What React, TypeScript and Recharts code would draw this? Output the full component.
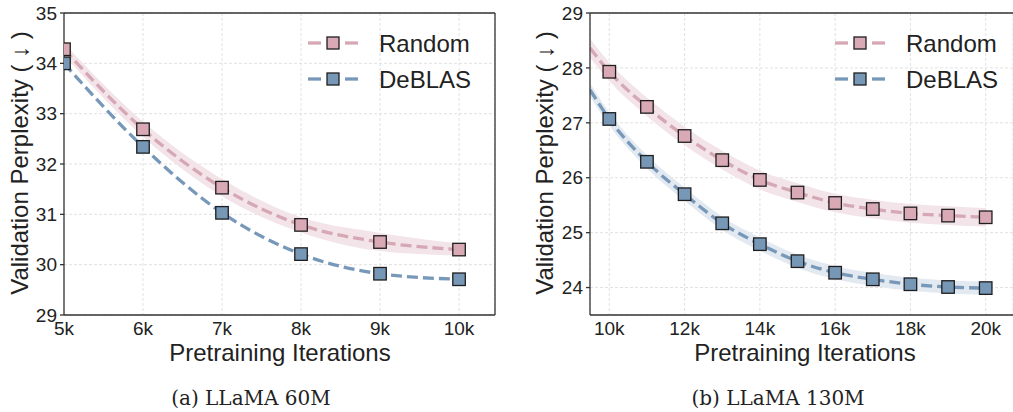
import React from "react";
import {
  ComposedChart,
  Line,
  Area,
  XAxis,
  YAxis,
  CartesianGrid,
  ReferenceLine,
} from "recharts";

// ---------- data ----------
const LEFT_X = [5000, 6000, 7000, 8000, 9000, 10000];
const LEFT_RANDOM = [34.28, 32.69, 31.53, 30.79, 30.45, 30.3];
const LEFT_DEBLAS = [34.0, 32.34, 31.03, 30.21, 29.82, 29.71];
const LEFT_RANDOM_SPREAD = [0.12, 0.15, 0.17, 0.15, 0.18, 0.12];
const LEFT_DEBLAS_SPREAD = [0.02, 0.02, 0.02, 0.02, 0.02, 0.02];
const LEFT_X_TICKS = [5000, 6000, 7000, 8000, 9000, 10000];
const LEFT_Y_TICKS = [29, 30, 31, 32, 33, 34, 35];
const LEFT_X_DOMAIN = [5000, 10455];
const LEFT_Y_DOMAIN = [29, 35];

const RIGHT_X = [10000, 11000, 12000, 13000, 14000, 15000, 16000, 17000, 18000, 19000, 20000];
const RIGHT_RANDOM = [27.93, 27.29, 26.76, 26.32, 25.96, 25.73, 25.54, 25.43, 25.35, 25.31, 25.28];
const RIGHT_DEBLAS = [27.07, 26.29, 25.7, 25.17, 24.79, 24.48, 24.27, 24.15, 24.06, 24.01, 23.99];
const RIGHT_RANDOM_SPREAD = [0.17, 0.17, 0.17, 0.17, 0.17, 0.17, 0.17, 0.17, 0.17, 0.17, 0.17];
const RIGHT_DEBLAS_SPREAD = [0.12, 0.12, 0.12, 0.12, 0.12, 0.12, 0.12, 0.12, 0.12, 0.12, 0.12];
// curve values where the fitted lines meet the left edge of the panel
const RIGHT_EDGE_X = 9487;
const RIGHT_EDGE_RANDOM = 28.36;
const RIGHT_EDGE_DEBLAS = 27.6;
const RIGHT_X_TICKS = [10000, 12000, 14000, 16000, 18000, 20000];
const RIGHT_Y_TICKS = [24, 25, 26, 27, 28, 29];
const RIGHT_X_DOMAIN = [9487, 20725];
const RIGHT_Y_DOMAIN = [23.5, 29];

const SERIES_NAMES = ["Random", "DeBLAS"];
const X_TITLE = "Pretraining Iterations";
const Y_TITLE = "Validation Perplexity ( \u2193 )";
const CAPTIONS = ["(a) LLaMA 60M", "(b) LLaMA 130M"];

// ---------- style ----------
const PINK_LINE = "#d6a7b4";
const PINK_FILL = "#d9aab6";
const PINK_BAND = "#f2e4e8";
const BLUE_LINE = "#7898b9";
const BLUE_FILL = "#7797b7";
const BLUE_BAND = "#e2e9f1";
const AXIS = "#333333";
const TEXT = "#222222";
const SANS = "'Liberation Sans', Arial, sans-serif";
const SERIF = "'DejaVu Serif', serif";

type Row = {
  x: number;
  r: number;
  d: number;
  rb: [number, number];
  db: [number, number];
  marker: boolean;
};

function buildRows(
  xs: number[],
  r: number[],
  d: number[],
  rs: number[],
  ds: number[]
): Row[] {
  return xs.map((x, i) => ({
    x,
    r: r[i],
    d: d[i],
    rb: [r[i] - rs[i], r[i] + rs[i]],
    db: [d[i] - ds[i], d[i] + ds[i]],
    marker: true,
  }));
}

const leftRows = buildRows(LEFT_X, LEFT_RANDOM, LEFT_DEBLAS, LEFT_RANDOM_SPREAD, LEFT_DEBLAS_SPREAD);
const rightRows: Row[] = [
  {
    x: RIGHT_EDGE_X,
    r: RIGHT_EDGE_RANDOM,
    d: RIGHT_EDGE_DEBLAS,
    rb: [RIGHT_EDGE_RANDOM - RIGHT_RANDOM_SPREAD[0], RIGHT_EDGE_RANDOM + RIGHT_RANDOM_SPREAD[0]],
    db: [RIGHT_EDGE_DEBLAS - RIGHT_DEBLAS_SPREAD[0], RIGHT_EDGE_DEBLAS + RIGHT_DEBLAS_SPREAD[0]],
    marker: false,
  },
  ...buildRows(RIGHT_X, RIGHT_RANDOM, RIGHT_DEBLAS, RIGHT_RANDOM_SPREAD, RIGHT_DEBLAS_SPREAD),
];

const squareDot = (fill: string) => (props: any) => {
  const { cx, cy, payload, index } = props;
  if (!payload || !payload.marker || cx == null || cy == null) {
    return <g key={`n${index}`} />;
  }
  return (
    <rect
      key={`s${index}`}
      x={cx - 6.25}
      y={cy - 6.25}
      width={12.5}
      height={12.5}
      fill={fill}
      stroke="#1e1e1e"
      strokeWidth={1.3}
    />
  );
};

type PanelProps = {
  rows: Row[];
  width: number;
  xDomain: number[];
  yDomain: number[];
  xTicks: number[];
  yTicks: number[];
  yAxisWidth: number;
  marginRight: number;
  rightBorder: boolean;
  showDeblasBand: boolean;
};

function Panel(p: PanelProps) {
  const tickStyle = { fontSize: 19, fill: TEXT, fontFamily: SANS };
  return (
    <ComposedChart
      width={p.width}
      height={412}
      data={p.rows}
      margin={{ top: 13, right: p.marginRight, left: 0, bottom: 67 }}
    >
      <CartesianGrid stroke="#dedede" strokeDasharray="3 2" strokeWidth={0.9} />
      <XAxis
        dataKey="x"
        type="number"
        domain={p.xDomain}
        ticks={p.xTicks}
        allowDataOverflow
        tickFormatter={(v: number) => `${v / 1000}k`}
        tick={tickStyle}
        tickLine={false}
        tickSize={0}
        tickMargin={7}
        height={30}
        stroke={AXIS}
        strokeWidth={1.3}
      />
      <YAxis
        type="number"
        domain={p.yDomain}
        ticks={p.yTicks}
        allowDataOverflow
        tick={tickStyle}
        tickSize={4}
        tickMargin={3}
        width={p.yAxisWidth}
        stroke={AXIS}
        strokeWidth={1.3}
      />
      <ReferenceLine y={p.yDomain[1]} stroke={AXIS} strokeWidth={1.3} />
      {p.rightBorder && <ReferenceLine x={p.xDomain[1]} stroke={AXIS} strokeWidth={1.3} />}
      <Area
        dataKey="rb"
        type="monotone"
        fill={PINK_BAND}
        fillOpacity={1}
        stroke="none"
        isAnimationActive={false}
        activeDot={false}
      />
      {p.showDeblasBand && (
        <Area
          dataKey="db"
          type="monotone"
          fill={BLUE_BAND}
          fillOpacity={1}
          stroke="none"
          isAnimationActive={false}
          activeDot={false}
        />
      )}
      <Line
        dataKey="r"
        type="monotone"
        stroke={PINK_LINE}
        strokeWidth={3.3}
        strokeDasharray="11 5"
        dot={squareDot(PINK_FILL)}
        activeDot={false}
        isAnimationActive={false}
      />
      <Line
        dataKey="d"
        type="monotone"
        stroke={BLUE_LINE}
        strokeWidth={3.3}
        strokeDasharray="11 5"
        dot={squareDot(BLUE_FILL)}
        activeDot={false}
        isAnimationActive={false}
      />
    </ComposedChart>
  );
}

function LegendBlock({ x, y }: { x: number; y: number }) {
  const colors = [
    [PINK_LINE, PINK_FILL],
    [BLUE_LINE, BLUE_FILL],
  ];
  return (
    <g>
      {SERIES_NAMES.map((name, i) => {
        const cy = y + i * 36;
        return (
          <g key={name}>
            <line x1={x} x2={x + 13} y1={cy} y2={cy} stroke={colors[i][0]} strokeWidth={3.3} />
            <line x1={x + 37} x2={x + 50} y1={cy} y2={cy} stroke={colors[i][0]} strokeWidth={3.3} />
            <rect x={x + 19} y={cy - 6} width={12} height={12} fill={colors[i][1]} stroke="#1e1e1e" strokeWidth={1.3} />
            <text x={x + 71} y={cy + 8.5} fontSize={24} fontFamily={SANS} fill={TEXT}>
              {name}
            </text>
          </g>
        );
      })}
    </g>
  );
}

export default function App() {
  return (
    <div style={{ position: "absolute", left: 0, top: 0, width: 1013, height: 412, background: "#fff", overflow: "hidden" }}>
      <div style={{ position: "absolute", left: 0, top: 0 }}>
        <Panel
          rows={leftRows}
          width={503}
          xDomain={LEFT_X_DOMAIN}
          yDomain={LEFT_Y_DOMAIN}
          xTicks={LEFT_X_TICKS}
          yTicks={LEFT_Y_TICKS}
          yAxisWidth={64}
          marginRight={8}
          rightBorder
          showDeblasBand={false}
        />
      </div>
      <div style={{ position: "absolute", left: 520, top: 0 }}>
        <Panel
          rows={rightRows}
          width={493}
          xDomain={RIGHT_X_DOMAIN}
          yDomain={RIGHT_Y_DOMAIN}
          xTicks={RIGHT_X_TICKS}
          yTicks={RIGHT_Y_TICKS}
          yAxisWidth={70}
          marginRight={0}
          rightBorder={false}
          showDeblasBand
        />
      </div>
      <svg
        width={1013}
        height={412}
        style={{ position: "absolute", left: 0, top: 0, pointerEvents: "none" }}
      >
        <LegendBlock x={308} y={43} />
        <LegendBlock x={835} y={43} />
        <text x={280} y={361} textAnchor="middle" fontSize={24} fontFamily={SANS} fill={TEXT}>
          {X_TITLE}
        </text>
        <text x={805} y={361} textAnchor="middle" fontSize={24} fontFamily={SANS} fill={TEXT}>
          {X_TITLE}
        </text>
        <text
          transform="translate(28,163) rotate(-90)"
          textAnchor="middle"
          fontSize={24}
          fontFamily={SANS}
          fill={TEXT}
        >
          {Y_TITLE}
        </text>
        <text
          transform="translate(553,163) rotate(-90)"
          textAnchor="middle"
          fontSize={24}
          fontFamily={SANS}
          fill={TEXT}
        >
          {Y_TITLE}
        </text>
        <text x={251} y={405} textAnchor="middle" fontSize={20} fontFamily={SERIF} fill={TEXT}>
          {CAPTIONS[0]}
        </text>
        <text x={778} y={405} textAnchor="middle" fontSize={20} fontFamily={SERIF} fill={TEXT}>
          {CAPTIONS[1]}
        </text>
      </svg>
    </div>
  );
}
